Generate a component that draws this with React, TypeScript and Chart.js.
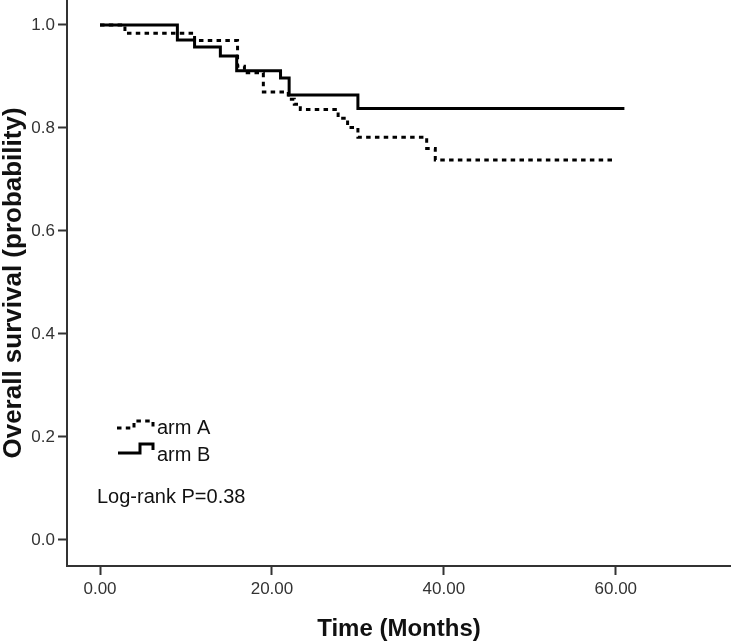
import React, { useEffect, useRef } from "react";
import { Chart, registerables } from "chart.js";

Chart.register(...registerables);

// ---- data ----
const armATimes = [0, 2.9, 11.0, 16.0, 16.8, 19.0, 21.9, 22.6, 23.3, 27.7, 28.8, 30.0, 38.0, 39.0, 60.0];
const armASurv = [1.0, 0.984, 0.970, 0.920, 0.907, 0.870, 0.856, 0.846, 0.836, 0.819, 0.801, 0.782, 0.760, 0.738, 0.738];
const armBTimes = [0, 9.0, 11.0, 14.0, 15.9, 21.0, 22.0, 30.0, 61.0];
const armBSurv = [1.0, 0.971, 0.957, 0.940, 0.911, 0.897, 0.864, 0.838, 0.838];
const seriesNames = ["arm A", "arm B"];
const xTickValues = [0, 20, 40, 60];
const yTickValues = [0, 0.2, 0.4, 0.6, 0.8, 1.0];
const xTitle = "Time (Months)";
const yTitle = "Overall survival (probability)";
const annotationText = "Log-rank P=0.38";

const FONT = "'Liberation Sans', Arial, sans-serif";

const legendPlugin = {
  id: "kmLegend",
  afterDraw(chart: any) {
    const ctx = chart.ctx as CanvasRenderingContext2D;
    const { left } = chart.chartArea;
    ctx.save();
    ctx.strokeStyle = "#000";
    ctx.lineWidth = 3;
    ctx.lineJoin = "miter";
    const ox = left + 50;
    // arm A symbol (dashed step)
    ctx.setLineDash([4.5, 4.3]);
    ctx.beginPath();
    ctx.moveTo(ox, 428);
    ctx.lineTo(ox + 17, 428);
    ctx.lineTo(ox + 17, 421);
    ctx.lineTo(ox + 36, 421);
    ctx.lineTo(ox + 36, 427);
    ctx.stroke();
    // arm B symbol (solid step)
    ctx.setLineDash([]);
    ctx.beginPath();
    ctx.moveTo(ox + 1, 453);
    ctx.lineTo(ox + 23, 453);
    ctx.lineTo(ox + 23, 444);
    ctx.lineTo(ox + 36, 444);
    ctx.lineTo(ox + 36, 450);
    ctx.stroke();
    ctx.fillStyle = "#111";
    ctx.font = `20px ${FONT}`;
    ctx.textBaseline = "middle";
    ctx.textAlign = "left";
    ctx.fillText(seriesNames[0], ox + 40, 428);
    ctx.fillText(seriesNames[1], ox + 40, 455);
    ctx.fillText(annotationText, left + 30, 497);
    ctx.restore();
  },
};

function noPad(scale: any) {
  scale.paddingTop = 0;
  scale.paddingBottom = 0;
  scale.paddingLeft = 0;
  scale.paddingRight = 0;
}

export default function App() {
  const canvasRef = useRef<HTMLCanvasElement | null>(null);

  useEffect(() => {
    document.body.style.margin = "0";
    const canvas = canvasRef.current;
    if (!canvas) return;
    const chart = new Chart(canvas, {
      type: "scatter",
      data: {
        datasets: [
          {
            label: seriesNames[0],
            data: armATimes.map((t, i) => ({ x: t, y: armASurv[i] })),
            showLine: true,
            stepped: "before",
            borderColor: "#000",
            borderWidth: 3,
            borderDash: [4.5, 4.3],
            pointRadius: 0,
            fill: false,
          },
          {
            label: seriesNames[1],
            data: armBTimes.map((t, i) => ({ x: t, y: armBSurv[i] })),
            showLine: true,
            stepped: "before",
            borderColor: "#000",
            borderWidth: 3,
            pointRadius: 0,
            fill: false,
          },
        ],
      },
      options: {
        responsive: false,
        animation: false,
        layout: { padding: 0 },
        plugins: {
          legend: { display: false },
          tooltip: { enabled: false },
          title: { display: false },
        },
        scales: {
          x: {
            type: "linear",
            min: -3.84,
            max: 73.4,
            afterFit(scale: any) {
              scale.height = 78;
              noPad(scale);
            },
            afterBuildTicks(scale: any) {
              scale.ticks = xTickValues.map((v) => ({ value: v }));
            },
            grid: {
              display: true,
              drawOnChartArea: false,
              drawTicks: true,
              tickLength: 9,
              tickWidth: 2,
              tickColor: "#333",
            },
            border: { display: true, color: "#333", width: 2 },
            ticks: {
              color: "#333",
              font: { family: FONT, size: 17 },
              padding: 4,
              maxRotation: 0,
              callback: (v: any) => Number(v).toFixed(2),
            },
            title: {
              display: true,
              text: xTitle,
              color: "#111",
              font: { family: FONT, size: 24, weight: "bold", lineHeight: 1.2 },
              padding: { top: 0, bottom: 0 },
            },
          },
          y: {
            type: "linear",
            min: -0.0505,
            max: 1.0485,
            afterFit(scale: any) {
              scale.width = 67;
              noPad(scale);
            },
            afterBuildTicks(scale: any) {
              scale.ticks = yTickValues.map((v) => ({ value: v }));
            },
            grid: {
              display: true,
              drawOnChartArea: false,
              drawTicks: true,
              tickLength: 9,
              tickWidth: 2,
              tickColor: "#333",
            },
            border: { display: true, color: "#333", width: 2 },
            ticks: {
              color: "#333",
              font: { family: FONT, size: 17 },
              padding: 3,
              callback: (v: any) => Number(v).toFixed(1),
            },
            title: {
              display: true,
              text: yTitle,
              color: "#111",
              font: { family: FONT, size: 26, weight: "bold", lineHeight: 1.1 },
              padding: { top: 0, bottom: 0 },
            },
          },
        },
      },
      plugins: [legendPlugin],
    });
    return () => chart.destroy();
  }, []);

  return (
    <div style={{ width: 731, height: 644, background: "#fff" }}>
      <canvas ref={canvasRef} width={731} height={644} />
    </div>
  );
}
